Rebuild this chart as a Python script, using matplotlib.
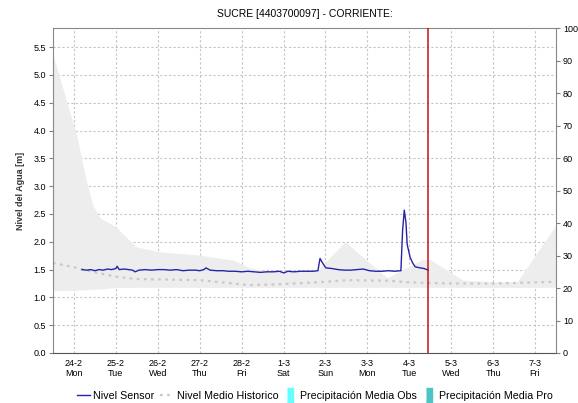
import matplotlib
matplotlib.use("Agg")
import matplotlib.pyplot as plt
from matplotlib.lines import Line2D

# days counted from 24-2 (tick positions are whole days)
day_labels = ["24-2\nMon", "25-2\nTue", "26-2\nWed", "27-2\nThu", "28-2\nFri", "1-3\nSat",
              "2-3\nSun", "3-3\nMon", "4-3\nTue", "5-3\nWed", "6-3\nThu", "7-3\nFri"]

# historic envelope (upper / lower)
band_t = [-0.5, 0.07, 0.29, 0.45, 0.62, 1.0, 1.48, 2.05, 3.0, 3.8, 4.2, 4.5, 5.0, 5.8,
          6.47, 7.47, 8.3, 8.5, 9.28, 10.0, 10.57, 11.5]
band_hi = [5.36, 3.9, 3.11, 2.66, 2.43, 2.27, 1.91, 1.82, 1.76, 1.67, 1.53, 1.49, 1.46, 1.48,
           2.0, 1.35, 1.68, 1.68, 1.31, 1.28, 1.28, 2.3]
band_lo = [1.12, 1.13, 1.14, 1.15, 1.15, 1.18, 1.18, 1.18, 1.18, 1.18, 1.18, 1.18, 1.18, 1.18,
           1.18, 1.18, 1.18, 1.18, 1.18, 1.18, 1.18, 1.18]

# historic mean level
hist_t = [-0.5, 0.07, 0.5, 1.03, 1.5, 3.0, 4.2, 5.0, 6.0, 6.5, 7.5, 8.0, 9.0, 10.0, 11.5]
hist_v = [1.62, 1.53, 1.45, 1.37, 1.33, 1.31, 1.22, 1.24, 1.28, 1.31, 1.30, 1.27, 1.25, 1.25, 1.28]

# sensor level
sensor_t = [0.19, 0.3, 0.4, 0.5, 0.6, 0.7, 0.8, 0.9, 1.0, 1.03, 1.08, 1.2, 1.3, 1.4, 1.46,
            1.55, 1.7, 1.85, 2.0, 2.15, 2.3, 2.45, 2.6, 2.75, 2.9, 3.0, 3.1, 3.15, 3.25, 3.4,
            3.55, 3.7, 3.85, 4.0, 4.15, 4.3, 4.45, 4.6, 4.75, 4.9, 5.01, 5.1, 5.25, 5.4, 5.55,
            5.7, 5.82, 5.87, 5.93, 6.01, 6.15, 6.3, 6.45, 6.6, 6.75, 6.9, 7.05, 7.2, 7.35, 7.5,
            7.65, 7.8, 7.84, 7.88, 7.92, 7.95, 8.02, 8.08, 8.14, 8.26, 8.35, 8.45]
sensor_v = [1.50, 1.49, 1.50, 1.48, 1.50, 1.49, 1.51, 1.50, 1.52, 1.56, 1.50, 1.51, 1.50, 1.49,
            1.46, 1.49, 1.50, 1.49, 1.50, 1.50, 1.49, 1.50, 1.48, 1.49, 1.49, 1.48, 1.50, 1.53,
            1.49, 1.48, 1.48, 1.47, 1.47, 1.46, 1.47, 1.46, 1.45, 1.46, 1.46, 1.47, 1.44, 1.47,
            1.46, 1.47, 1.47, 1.47, 1.48, 1.70, 1.62, 1.53, 1.52, 1.50, 1.49, 1.49, 1.50, 1.51,
            1.48, 1.47, 1.47, 1.48, 1.47, 1.48, 2.20, 2.57, 2.35, 1.95, 1.72, 1.62, 1.55, 1.53,
            1.52, 1.49]

now_t = 8.45

plt.rcParams['font.family'] = ['Liberation Sans', 'DejaVu Sans']
fig = plt.figure(figsize=(5.78, 4.03), dpi=100)
ax = fig.add_axes([53 / 578, 1 - 353 / 403, 503 / 578, 325 / 403])

ax.fill_between(band_t, band_lo, band_hi, color='#ededed', lw=0, zorder=1)
ax.plot(hist_t, hist_v, color='#c8c8c8', lw=1.6, ls=(0, (1.2, 2.0)), zorder=2)
ax.plot(sensor_t, sensor_v, color='#2424a8', lw=1.0, zorder=3)
ax.axvline(now_t, color='#cc1111', lw=1.1, zorder=4)

ax.set_xlim(-0.5, 11.5)
ax.set_ylim(0, 5.845)
ax.set_yticks([i * 0.5 for i in range(12)])
ax.set_yticklabels([f"{i * 0.5:.1f}" for i in range(12)])
ax.set_xticks(range(12))
ax.set_xticklabels(day_labels)
ax.grid(True, color='#c4c4c4', ls=(0, (2, 2)), lw=0.8, zorder=0)
ax.set_axisbelow(True)
ax.tick_params(axis='y', labelsize=6.5, length=3, color='#808080', pad=2)
ax.tick_params(axis='x', labelsize=6.5, length=0, pad=4)
for side in ['top', 'right', 'left']:
    ax.spines[side].set_color('#888888')
ax.spines['bottom'].set_color('#555555')
ax.spines['bottom'].set_linestyle((0, (1, 1)))
ax.set_ylabel("Nivel del Agua [m]", fontsize=6.5, fontweight='bold', color='#333333', labelpad=6)
ax.set_title("SUCRE [4403700097] - CORRIENTE:", fontsize=7.5, pad=8)

ax2 = ax.twinx()
ax2.set_ylim(0, 100)
ax2.set_yticks(range(0, 101, 10))
ax2.tick_params(axis='y', labelsize=6.5, length=3, color='#808080', pad=2)
for side in ['top', 'right', 'left', 'bottom']:
    ax2.spines[side].set_visible(False)

tall = [(-0.5, -1), (0.5, -1), (0.5, 1), (-0.5, 1)]
handles = [
    Line2D([], [], color='#2424a8', lw=1.0),
    Line2D([], [], color='#c8c8c8', lw=1.6, ls=(0, (1.2, 2.0))),
    Line2D([], [], ls='none', marker=tall, markersize=10, color='#66ffff'),
    Line2D([], [], ls='none', marker=tall, markersize=10, color='#4cc4c4'),
]
labels = ["Nivel Sensor", "Nivel Medio Historico", "Precipitación Media Obs", "Precipitación Media Pro"]
fig.legend(handles, labels, loc='lower center', bbox_to_anchor=(0.545, -0.018), ncol=4,
           frameon=False, fontsize=7.7, handlelength=1.2, handletextpad=0.3, columnspacing=0.55)

fig.savefig("out.png", dpi=100)
